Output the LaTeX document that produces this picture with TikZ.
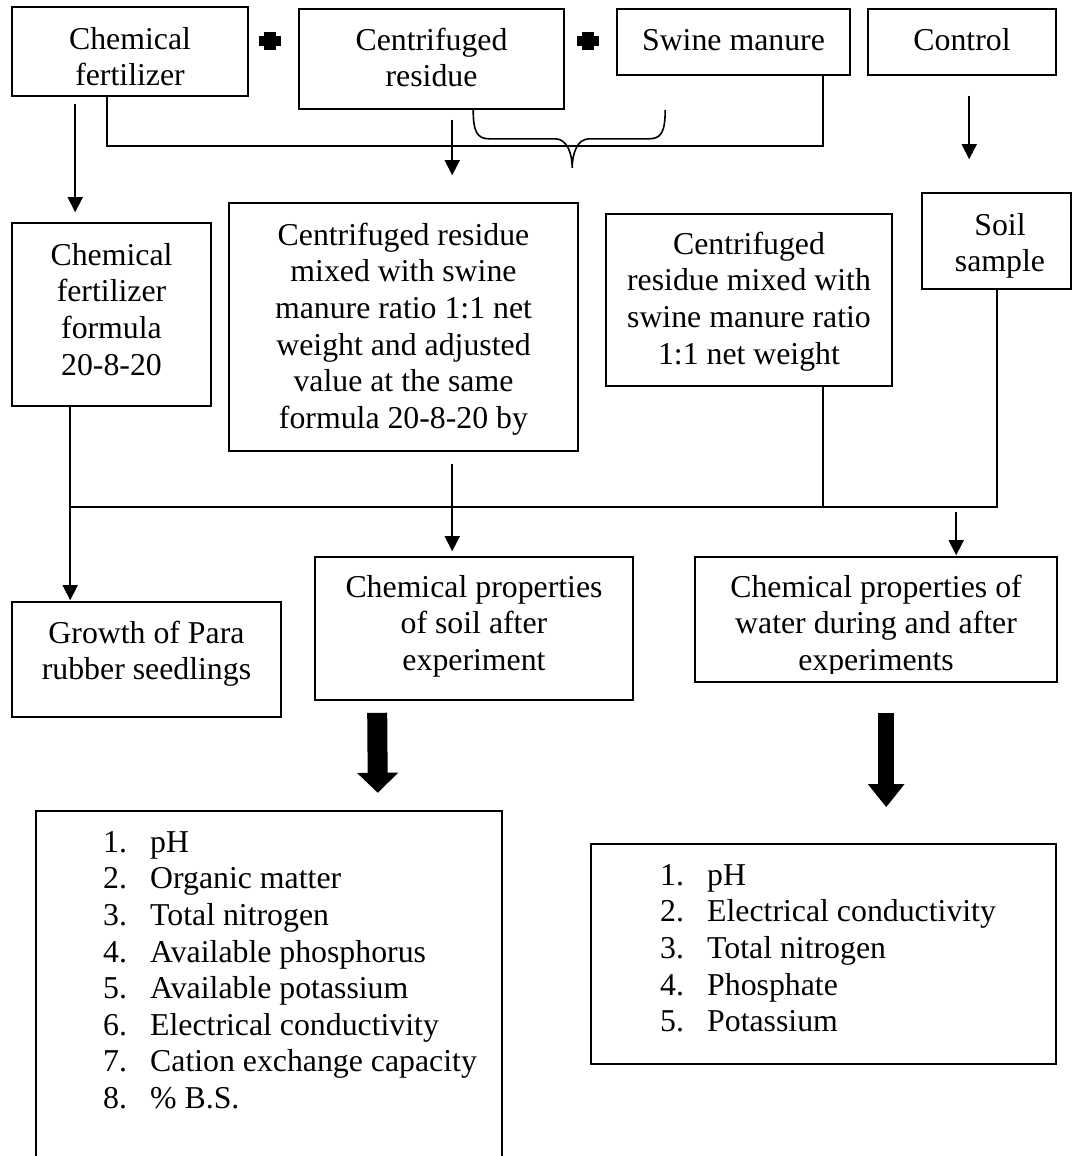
\documentclass[tikz,border=0pt]{standalone}
\usepackage{fontspec}
\setmainfont{Liberation Serif}
\usetikzlibrary{arrows.meta,fit,calc}
\newcommand\sr{\vrule height 24pt depth 0pt width 0pt}
\newcommand\lnum[1]{\makebox[47pt][l]{#1}}
\begin{document}
\begin{tikzpicture}[x=1pt,y=-1pt,
  line/.style={line width=1.6pt},
  arr/.style={line width=1.6pt,-{Triangle[width=15pt,length=15pt]}},
  box/.style={draw,line width=1.6pt,inner sep=0pt},
  txt/.style={font=\fontsize{31.8pt}{36.6pt}\selectfont,align=center,inner sep=0pt,anchor=north},
  lst/.style={font=\fontsize{31.8pt}{36.6pt}\selectfont,align=left,inner sep=0pt,anchor=north west},
  fatA/.style={line width=20pt,-{Triangle[width=40pt,length=20pt]}},
  fatB/.style={line width=16pt,-{Triangle[width=35pt,length=23pt]}},
  plusbar/.style={fill=black}]
\useasboundingbox (0,0) rectangle (1072,1156);

% boxes
\node[box,fit={(12,7)(248,96)}] (cf) {};
\node[box,fit={(299,9)(564,109)}] (cr) {};
\node[box,fit={(617,9)(850,75)}] (sw) {};
\node[box,fit={(868,9)(1056,75)}] (ctl) {};
\node[box,fit={(12,223)(211,406)}] (cff) {};
\node[box,fit={(229,203)(578,451)}] (mix1) {};
\node[box,fit={(606,214)(892,386)}] (mix2) {};
\node[box,fit={(922,193)(1071,289)}] (soil) {};
\node[box,fit={(12,602)(281,717)}] (gr) {};
\node[box,fit={(315,557)(633,700)}] (sp) {};
\node[box,fit={(695,557)(1057,682)}] (wp) {};
\node[inner sep=0pt,fit={(36,811)(502,1156)}] (sl) {};
\draw[line] (sl.south west) |- (sl.north east) -- (sl.south east);
\node[box,fit={(591,844)(1056,1064)}] (wl) {};

% texts
\node[txt] (cft) at (130,25) {\sr Chemical\\fertilizer};
\node[txt] (crt) at (431.5,26) {\sr Centrifuged\\residue};
\node[txt] (swt) at (733.5,26) {\sr Swine manure};
\node[txt] (ctlt) at (962,26) {\sr Control};
\node[txt] (cfft) at (111.5,241) {\sr Chemical\\fertilizer\\formula\\20-8-20};
\node[txt] (mix1t) at (403.5,221) {\sr Centrifuged residue\\mixed with swine\\manure ratio 1:1 net\\weight and adjusted\\value at the same\\formula 20-8-20 by};
\node[txt] (mix2t) at (749,230) {\sr Centrifuged\\residue mixed with\\swine manure ratio\\1:1 net weight};
\node[txt] (soilt) at (1000,211) {\sr Soil\\sample};
\node[txt] (grt) at (146.5,619) {\sr Growth of Para\\rubber seedlings};
\node[txt] (spt) at (474,573) {\sr Chemical properties\\of soil after\\experiment};
\begin{scope}
\clip (695,557) rectangle (1057,673);
\node[txt] (wpt) at (876,573) {\sr Chemical properties of\\water during and after\\experiments};
\end{scope}
\node[lst] (slt) at (103,828) {\sr\lnum{1.}pH\\\lnum{2.}Organic matter\\\lnum{3.}Total nitrogen\\\lnum{4.}Available phosphorus\\\lnum{5.}Available potassium\\\lnum{6.}Electrical conductivity\\\lnum{7.}Cation exchange capacity\\\lnum{8.}\% B.S.};
\node[lst] (wlt) at (660,861) {\sr\lnum{1.}pH\\\lnum{2.}Electrical conductivity\\\lnum{3.}Total nitrogen\\\lnum{4.}Phosphate\\\lnum{5.}Potassium};

% plus signs
\fill[plusbar] (259,36) rectangle (281,46);
\fill[plusbar] (264,32) rectangle (276,50);
\fill[plusbar] (577,36) rectangle (599,46);
\fill[plusbar] (582,32) rectangle (594,50);

% top connectors
\draw[arr] ([xshift=64pt,yshift=-7pt]cf.south west) -- ([xshift=64pt,yshift=10pt]cff.north west);
\draw[line] ([xshift=96pt]cf.south west) |- ([xshift=207pt,yshift=-70pt]sw.south west) -- ([xshift=207pt]sw.south west);
\draw[line] ([xshift=175pt]cr.south west) .. controls +(0,22) and +(-12,0) .. ++(16,29)
  -- ++(66,0) .. controls +(12,0) and +(0,-14) .. ++(17,29)
  .. controls +(0,-14) and +(-12,0) .. ++(17,-29)
  -- ++(60,0) .. controls +(12,0) and +(0,22) .. ++(16,-29);
\draw[arr] ([xshift=154pt,yshift=-10pt]cr.south west) -- ([xshift=224pt,yshift=27pt]mix1.north west);
\draw[arr] ([xshift=102pt,yshift=-20pt]ctl.south west) -- ([xshift=48pt,yshift=33pt]soil.north west);

% lower connectors
\draw[arr] ([xshift=59pt]cff.south west) -- ([xshift=59pt,yshift=1pt]gr.north west);
\draw[line] ([xshift=59pt,yshift=-100pt]cff.south west) -| ([xshift=76pt]soil.south west);
\draw[line] ([xshift=218pt]mix2.south west) -- ([xshift=218pt,yshift=-120pt]mix2.south west);
\draw[arr] ([xshift=224pt,yshift=-12pt]mix1.south west) -- ([xshift=138pt,yshift=5pt]sp.north west);
\draw[arr] ([xshift=262pt,yshift=44pt]wp.north west) -- ([xshift=262pt,yshift=1pt]wp.north west);

% thick arrows
\draw[fatA] ([xshift=63pt,yshift=-12pt]sp.south west) -- ([xshift=342pt,yshift=18pt]sl.north west);
\draw[fatB] ([xshift=192pt,yshift=-30pt]wp.south west) -- ([xshift=296pt,yshift=36pt]wl.north west);
\end{tikzpicture}
\end{document}
